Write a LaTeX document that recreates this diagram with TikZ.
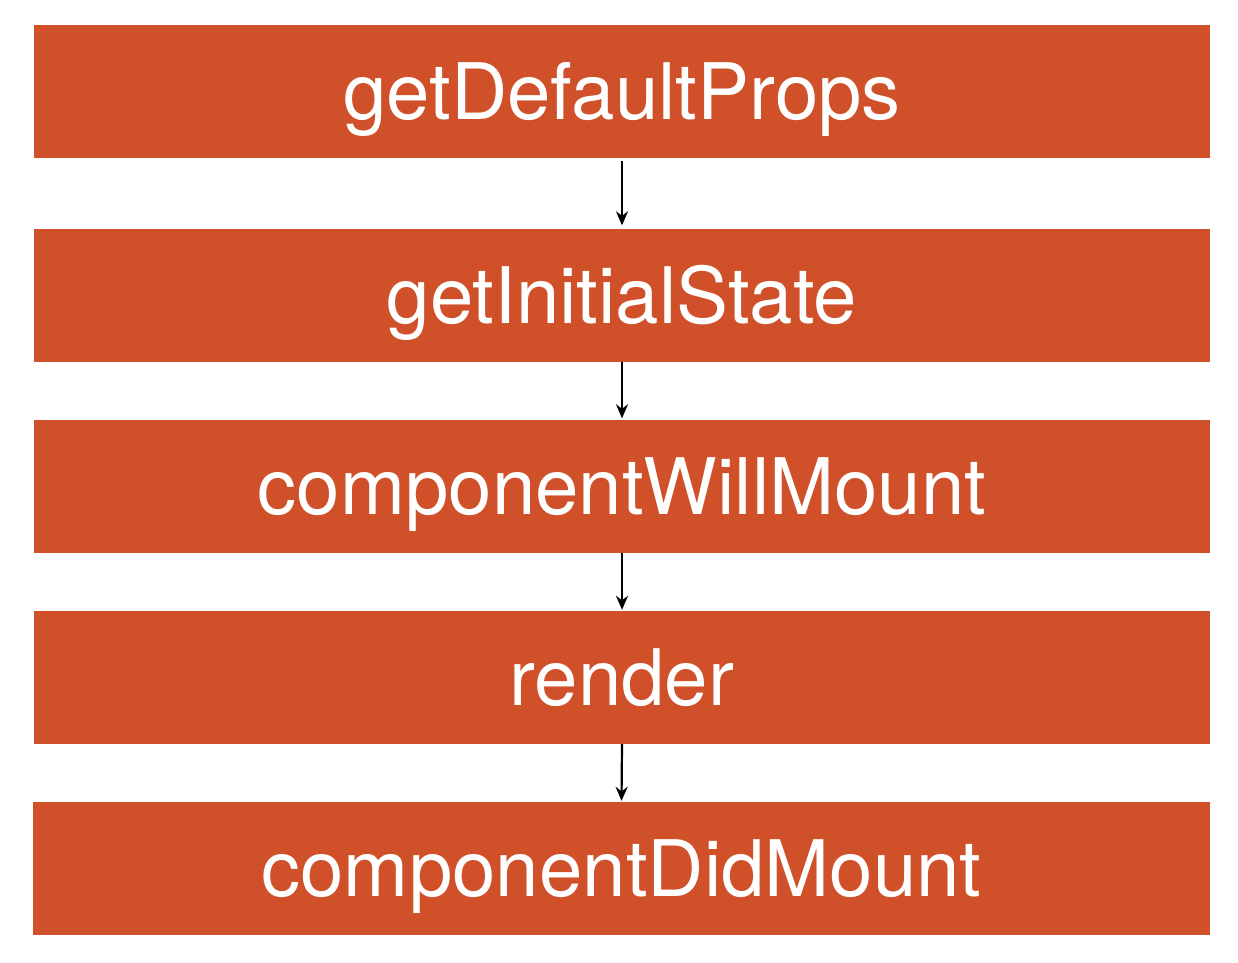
\documentclass[tikz,border=0pt]{standalone}
\usepackage{fontspec}
\setmainfont{TeX Gyre Heros}
\usetikzlibrary{arrows.meta}
\definecolor{boxred}{RGB}{207,80,41}
\tikzset{
  stagebox/.style={fill=boxred, draw=none, minimum width=1176pt, minimum height=133pt,
    inner sep=0pt, text=white, font=\fontsize{78}{84}\selectfont,
    text height=56pt, text depth=0pt},
  flow/.style={line width=2.2pt, -{Stealth[length=14pt,width=12pt]}, shorten <=3pt, shorten >=3pt}
}
\begin{document}
\begin{tikzpicture}[x=1pt,y=-1pt]
\useasboundingbox (0,0) rectangle (1238,962);
\node[stagebox] (a) at (622,91.5) {getDefaultProps};
\node[stagebox] (b) at (622,295) {getInitialState};
\node[stagebox] (c) at (622,486) {componentWillMount};
\node[stagebox] (d) at (622,677.5) {render};
\node[stagebox, minimum width=1177pt] (e) at (621.5,868.5) {componentDidMount};
\draw[flow] (a.south) -- (b.north);
\draw[flow, shorten <=0pt, shorten >=1pt] (b.south) -- (c.north);
\draw[flow, shorten <=0pt, shorten >=1pt] (c.south) -- (d.north);
\draw[flow, shorten <=0pt, shorten >=1pt] (d.south) -- (e.north);
\end{tikzpicture}
\end{document}
